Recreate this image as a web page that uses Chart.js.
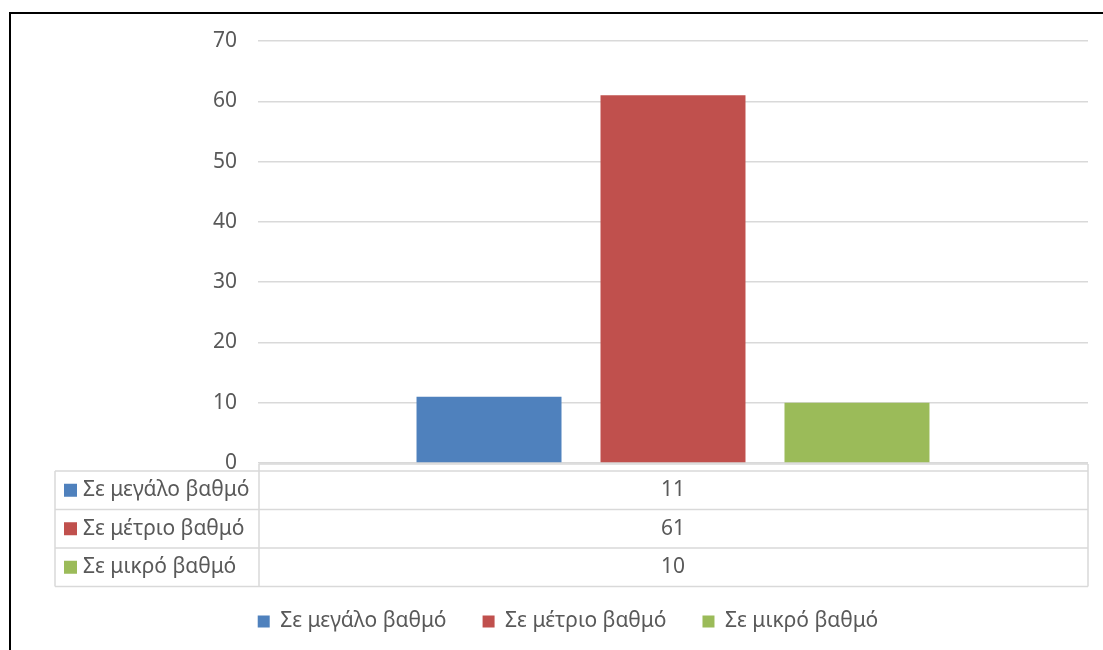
<!DOCTYPE html>
<html>
<head>
<meta charset="utf-8">
<script src="https://cdn.jsdelivr.net/npm/chart.js@4.4.1/dist/chart.umd.min.js"></script>
<style>
  body { margin: 0; background: #fff; }
  #wrap { position: relative; width: 1103px; height: 650px; overflow: hidden; }
  #frame { position: absolute; left: 9px; top: 12px; width: 1200px; height: 700px;
           border-left: 2px solid #000; border-top: 2px solid #000; pointer-events: none; }
</style>
</head>
<body>
<div id="wrap">
  <canvas id="chart" width="1103" height="650"></canvas>
  <div id="frame"></div>
</div>
<script>
const categories = [""];
const seriesNames = ["Σε μεγάλο βαθμό", "Σε μέτριο βαθμό", "Σε μικρό βαθμό"];
const seriesValues = [[11], [61], [10]];
const seriesColors = ["#4F81BD", "#C0504D", "#9BBB59"];
const yTicks = [0, 10, 20, 30, 40, 50, 60, 70];

const textColor = "#595959";
const gridColor = "#D9D9D9";
const fontFamily = "'Noto Sans', 'DejaVu Sans', sans-serif";
const fontSize = 21;

// excel style data table under the plot
const dataTable = {
  id: "dataTable",
  afterDraw(chart) {
    const ctx = chart.ctx;
    const area = chart.chartArea;
    const x = chart.scales.x;
    const left = 55, colX = area.left + 1, right = area.right;
    const top = area.bottom + 1, headBottom = area.bottom + 8, rowH = 38.5;
    const bottom = headBottom + rowH * seriesNames.length;

    ctx.save();
    ctx.strokeStyle = gridColor;
    ctx.lineWidth = 1.5;
    ctx.beginPath();
    ctx.moveTo(colX, top); ctx.lineTo(right, top);
    for (let i = 0; i <= seriesNames.length; i++) {
      const y = headBottom + rowH * i;
      ctx.moveTo(left, y); ctx.lineTo(right, y);
    }
    ctx.moveTo(left, headBottom); ctx.lineTo(left, bottom);
    ctx.moveTo(colX, top); ctx.lineTo(colX, bottom);
    ctx.moveTo(right, top); ctx.lineTo(right, bottom);
    ctx.stroke();

    ctx.font = fontSize + "px " + fontFamily;
    ctx.textBaseline = "middle";
    seriesNames.forEach((name, i) => {
      const cy = headBottom + rowH * i + rowH / 2;
      ctx.fillStyle = seriesColors[i];
      ctx.fillRect(64, cy - 6.5, 13, 13);
      ctx.fillStyle = textColor;
      ctx.textAlign = "left";
      ctx.fillText(name, 83, cy);
      ctx.textAlign = "center";
      categories.forEach((c, j) => {
        ctx.fillText(String(seriesValues[i][j]), x.getPixelForValue(j), cy);
      });
    });
    ctx.restore();
  }
};

new Chart(document.getElementById("chart"), {
  type: "bar",
  data: {
    labels: categories,
    datasets: seriesNames.map((name, i) => ({
      label: name,
      data: seriesValues[i],
      backgroundColor: seriesColors[i],
      borderWidth: 0,
      categoryPercentage: 0.665,
      barPercentage: 0.788
    }))
  },
  options: {
    responsive: false,
    animation: false,
    layout: { padding: { left: 48, right: 15, top: 41, bottom: 8 } },
    scales: {
      x: {
        ticks: { display: false },
        grid: { display: false },
        border: { display: false },
        afterFit(scale) { scale.height = 112; }
      },
      y: {
        min: 0,
        max: 70,
        afterBuildTicks(scale) { scale.ticks = yTicks.map(v => ({ value: v })); },
        afterFit(scale) { scale.width = 210; },
        ticks: { color: textColor, font: { family: fontFamily, size: fontSize }, padding: 21 },
        grid: { color: gridColor, lineWidth: 1.5, drawTicks: false },
        border: { display: false }
      }
    },
    plugins: {
      legend: {
        position: "bottom",
        labels: {
          color: textColor,
          font: { family: fontFamily, size: fontSize },
          boxWidth: 12,
          boxHeight: 12,
          padding: 36
        }
      },
      tooltip: { enabled: false }
    }
  },
  plugins: [dataTable]
});
</script>
</body>
</html>
